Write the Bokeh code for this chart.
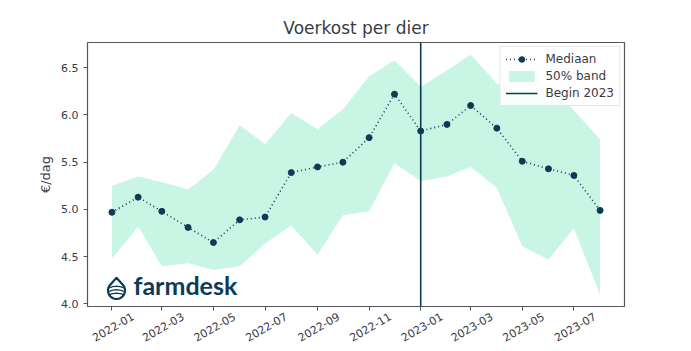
import math
import pandas as pd
from bokeh.plotting import figure
from bokeh.models import (ColumnDataSource, DatetimeTickFormatter, FixedTicker,
                          Range1d, Span, Label, PolyAnnotation, Legend, LegendItem,
                          NumeralTickFormatter, DatetimeAxis, CustomJSTickFormatter)
from bokeh.embed import file_html
from bokeh.resources import INLINE

months = ["2022-01", "2022-02", "2022-03", "2022-04", "2022-05", "2022-06", "2022-07",
          "2022-08", "2022-09", "2022-10", "2022-11", "2022-12", "2023-01", "2023-02",
          "2023-03", "2023-04", "2023-05", "2023-06", "2023-07", "2023-08"]
median = [4.97, 5.13, 4.98, 4.81, 4.65, 4.89, 4.92, 5.39, 5.45, 5.50, 5.76, 6.22,
          5.83, 5.90, 6.10, 5.86, 5.51, 5.43, 5.36, 4.99]
band_low = [4.48, 4.82, 4.40, 4.43, 4.36, 4.40, 4.64, 4.83, 4.52, 4.94, 4.98, 5.49,
            5.30, 5.35, 5.45, 5.23, 4.61, 4.47, 4.80, 4.10]
band_high = [5.25, 5.35, 5.29, 5.21, 5.42, 5.89, 5.69, 6.02, 5.85, 6.06, 6.41, 6.58,
             6.30, 6.47, 6.64, 6.33, 6.27, 6.31, 6.05, 5.74]
begin_2023 = "2023-01-01"
x_tick_labels = ["2022-01", "2022-03", "2022-05", "2022-07", "2022-09", "2022-11",
                 "2023-01", "2023-03", "2023-05", "2023-07"]
y_ticks = [4.0, 4.5, 5.0, 5.5, 6.0, 6.5]

NAVY = "#0d3b56"
MINT = "#c9f5e5"
TEXT = "#3b3b45"

dates = pd.to_datetime([m + "-01" for m in months])
src = ColumnDataSource(dict(x=dates, med=median, lo=band_low, hi=band_high))

d0, d1 = dates.min(), dates.max()
span_days = (d1 - d0)
xr = Range1d(d0 - span_days * 0.05, d1 + span_days * 0.05)
lo_all, hi_all = min(band_low), max(band_high)
pad = (hi_all - lo_all) * 0.05
yr = Range1d(lo_all - pad, hi_all + pad)

p = figure(width=691, height=351, x_axis_type="datetime", x_range=xr, y_range=yr,
           output_backend="svg", toolbar_location=None,
           min_border_left=87, min_border_right=67, min_border_top=42, min_border_bottom=45)

p.title.text = "Voerkost per dier"
p.title.align = "center"
p.title.text_font = "DejaVu Sans"
p.title.text_font_size = "17px"
p.title.text_font_style = "normal"
p.title.text_color = TEXT

band = p.varea(x="x", y1="lo", y2="hi", source=src, fill_color=MINT)
ln = p.line(x="x", y="med", source=src, line_color=NAVY, line_dash="1 3", line_width=1.6)
sc = p.scatter(x="x", y="med", source=src, marker="circle", size=6, fill_color=NAVY, line_color=NAVY)

begin_ts = pd.Timestamp(begin_2023)
vline = Span(location=begin_ts.value / 1e6, dimension="height",
             line_color=NAVY, line_width=1.6)
p.add_layout(vline)
dummy = p.line(x=[begin_ts, begin_ts], y=[float("nan"), float("nan")],
               line_color=NAVY, line_width=1.6)

legend = Legend(items=[LegendItem(label="Mediaan", renderers=[ln, sc]),
                       LegendItem(label="50% band", renderers=[band]),
                       LegendItem(label="Begin 2023", renderers=[dummy])],
                location="top_right")
legend.label_text_font = "DejaVu Sans"
legend.label_text_font_size = "12px"
legend.label_text_color = TEXT
legend.border_line_color = "#d0d0d0"
legend.background_fill_alpha = 0.85
legend.glyph_width = 32
legend.glyph_height = 14
legend.spacing = 3
legend.padding = 5
legend.margin = 4
legend.label_standoff = 8
legend.label_height = 14
p.add_layout(legend)

p.xgrid.visible = False
p.ygrid.visible = False
p.outline_line_color = "#55555f"
p.outline_line_width = 1.2

# tick marks axis (labels blank)
tick_ms = [pd.Timestamp(lab + "-01").value / 1e6 for lab in x_tick_labels]
p.xaxis.ticker = FixedTicker(ticks=tick_ms)
p.xaxis.formatter = CustomJSTickFormatter(code="return '';")
p.xaxis.major_label_standoff = 0
p.xaxis.major_label_text_font_size = "1px"

# label axis: ticks shifted so rotated labels are centred on the tick (matplotlib style)
shift_ms = 25 * 24 * 3600 * 1000
lab_axis = DatetimeAxis(ticker=FixedTicker(ticks=[t + shift_ms for t in tick_ms]),
                        formatter=DatetimeTickFormatter(months="%Y-%m", days="%Y-%m",
                                                        years="%Y-%m", hours="%Y-%m"),
                        major_label_orientation=math.radians(30))
lab_axis.axis_line_color = None
lab_axis.major_tick_line_color = None
lab_axis.minor_tick_line_color = None
lab_axis.major_tick_out = 0
lab_axis.major_tick_in = 0
lab_axis.major_label_standoff = 5
lab_axis.major_label_text_font = "DejaVu Sans"
lab_axis.major_label_text_font_size = "11px"
lab_axis.major_label_text_color = TEXT
p.add_layout(lab_axis, "below")

p.yaxis.ticker = FixedTicker(ticks=y_ticks)
p.yaxis.formatter = NumeralTickFormatter(format="0.0")
p.yaxis.axis_label = "€/dag"
for ax in (p.xaxis[0], p.yaxis[0]):
    ax.axis_line_color = None
    ax.major_tick_line_color = "#55555f"
    ax.major_tick_in = 0
    ax.major_tick_out = 4
    ax.minor_tick_line_color = None
    ax.major_label_text_font = "DejaVu Sans"
    ax.major_label_text_color = TEXT
    ax.axis_label_text_font = "DejaVu Sans"
    ax.axis_label_text_font_size = "13px"
    ax.axis_label_text_font_style = "normal"
    ax.axis_label_text_color = TEXT
p.yaxis.major_label_text_font_size = "11px"

# farmdesk logo (frame-relative screen units)
p.add_layout(Label(x=46, y=7, x_units="screen", y_units="screen", text="farmdesk",
                   text_font="Lato", text_font_size="25px", text_font_style="bold",
                   text_color=NAVY))
cx, cy, r = 29, 16, 8.5
drop_x, drop_y = [], []
for i in range(41):
    t = math.pi * (0.75 + 1.5 * i / 40)
    drop_x.append(cx + r * math.cos(t))
    drop_y.append(cy + r * math.sin(t))
drop_x = [cx] + drop_x
drop_y = [cy + 1.5 * r] + drop_y
p.add_layout(PolyAnnotation(xs=drop_x, ys=drop_y, xs_units="screen", ys_units="screen",
                            fill_alpha=0, line_alpha=1, line_color=NAVY, line_width=2.2))
for k, off in enumerate([2.5, -1.0, -4.5]):
    xs = [cx - r * 0.9 + j * (r * 1.8) / 10 for j in range(11)]
    ys = [cy + off + 1.8 * math.sin(math.pi * j / 10) for j in range(11)]
    p.add_layout(PolyAnnotation(xs=xs + xs[::-1], ys=ys + ys[::-1], xs_units="screen",
                                ys_units="screen", fill_alpha=0, line_alpha=1,
                                line_color=NAVY, line_width=1.2))

open("out.html", "w").write(file_html(p, INLINE))
